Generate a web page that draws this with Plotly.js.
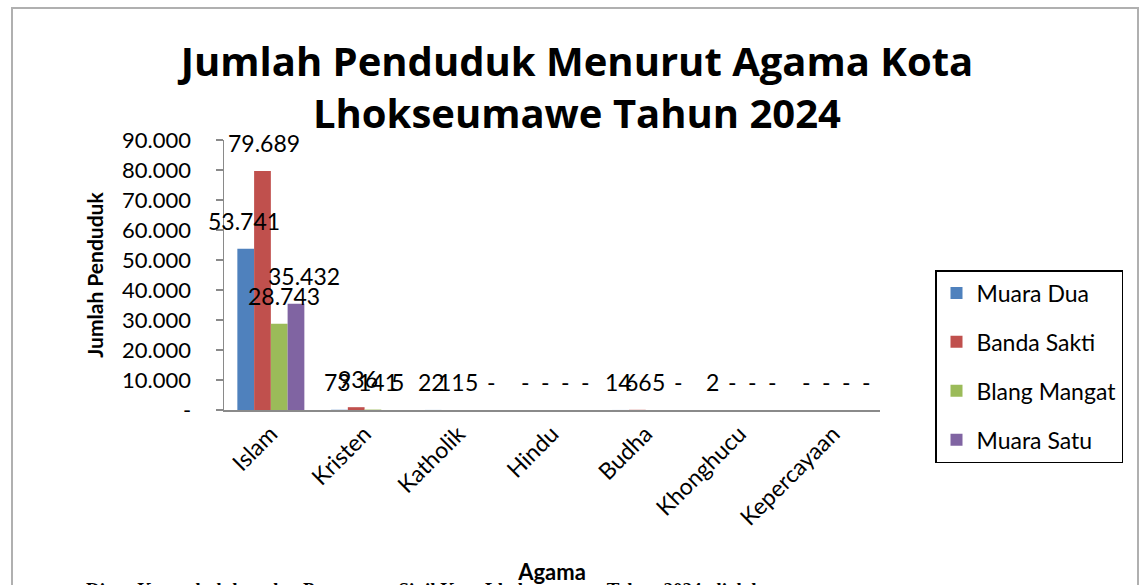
<!DOCTYPE html>
<html>
<head>
<meta charset="utf-8">
<script src="https://cdn.plot.ly/plotly-3.0.1.min.js"></script>
<style>
  html, body { margin: 0; padding: 0; background: #ffffff; }
  #wrap { position: relative; width: 1147px; height: 585px; overflow: hidden; }
  #frame { position: absolute; left: 11px; top: 7px; width: 1128px; height: 600px; border: 2px solid #b0b0b0; box-sizing: border-box; pointer-events: none; }
  #chart { position: absolute; left: 0; top: 0; width: 1147px; height: 585px; }
</style>
</head>
<body>
<div id="wrap">
  <div id="chart"></div>
  <div id="frame"></div>
</div>
<script>
// ---- Data ----
const categories = ['Islam', 'Kristen', 'Katholik', 'Hindu', 'Budha', 'Khonghucu', 'Kepercayaan'];
const seriesNames = ['Muara Dua', 'Banda Sakti', 'Blang Mangat', 'Muara Satu'];
const muaraDua    = [53741, 73, 22, 0, 14, 2, 0];
const bandaSakti  = [79689, 936, 11, 0, 66, 0, 0];
const blangMangat = [28743, 141, 5, 0, 5, 0, 0];
const muaraSatu   = [35432, 5, 0, 0, 0, 0, 0];
const yTickVals   = [0, 10000, 20000, 30000, 40000, 50000, 60000, 70000, 80000, 90000];
const yTickText   = ['-', '10.000', '20.000', '30.000', '40.000', '50.000', '60.000', '70.000', '80.000', '90.000'];

const seriesValues = [muaraDua, bandaSakti, blangMangat, muaraSatu];
const colors = ['#4F81BD', '#C0504D', '#9BBB59', '#8064A2'];

function fmt(v) {
  if (v === 0) return '-';
  return String(v).replace(/\B(?=(\d{3})+(?!\d))/g, '.');
}

const FONT = 'Lato, "Open Sans", sans-serif';
const TFONT = '"Open Sans", Lato, sans-serif';

const traces = seriesValues.map((vals, i) => ({
  type: 'bar',
  name: seriesNames[i],
  x: categories,
  y: vals,
  marker: { color: colors[i] },
  legendgroup: 'g' + i,
  hoverinfo: 'skip'
}));

// layout geometry
const W = 1147, H = 585;
const mL = 224, mR = 267, mT = 140, mB = 175;
const plotW = W - mL - mR;
const bargap = 0.285;
const labelStep = 20;

const annotations = [];
seriesValues.forEach((vals, i) => {
  vals.forEach((v, j) => {
    annotations.push({
      x: categories[j], y: v, xref: 'x', yref: 'y',
      text: fmt(v), showarrow: false,
      xshift: (i - (seriesValues.length - 1) / 2) * labelStep + 3,
      yshift: 28,
      font: { family: FONT, size: 23, color: '#000000' }
    });
  });
});

annotations.push({
  xref: 'paper', yref: 'paper', x: -0.213, y: (410 - 589) / 270, xanchor: 'left', yanchor: 'middle',
  text: '<b>Dinas Kependudukan dan Pencatatan Sipil Kota Lhokseumawe Tahun 2024, diolah</b>',
  showarrow: false,
  font: { family: '"Liberation Serif", "Times New Roman", serif', size: 19, color: '#000000' }
});

const layout = {
  width: W, height: H,
  margin: { l: mL, r: mR, t: mT, b: mB, pad: 0 },
  paper_bgcolor: '#ffffff',
  plot_bgcolor: '#ffffff',
  barmode: 'group',
  bargap: bargap,
  bargroupgap: 0,
  showlegend: true,
  title: {
    text: '<b>Jumlah Penduduk Menurut Agama Kota<br>Lhokseumawe Tahun 2024</b>',
    x: 0.503, xanchor: 'center',
    y: 1 - 76 / H, yanchor: 'middle', yref: 'container',
    font: { family: TFONT, size: 40, color: '#000000' }
  },
  xaxis: {
    type: 'category',
    range: [-0.5, categories.length - 0.5],
    autorange: false,
    showline: true, linecolor: '#8a8a8a', linewidth: 1.5,
    ticks: '', showgrid: false, zeroline: false,
    tickangle: -45,
    tickfont: { family: FONT, size: 23, color: '#000000' },
    title: { text: '<b>Agama</b>', standoff: 36, font: { family: FONT, size: 22, color: '#000000' } },
    automargin: false
  },
  yaxis: {
    range: [0, 90000],
    autorange: false,
    tickmode: 'array', tickvals: yTickVals, ticktext: yTickText,
    showline: true, linecolor: '#8a8a8a', linewidth: 1.5,
    ticks: 'outside', ticklen: 7, tickcolor: '#8a8a8a', tickwidth: 1.5,
    ticklabelstandoff: 20,
    showgrid: false, zeroline: false,
    tickfont: { family: FONT, size: 22, color: '#000000' },
    title: { text: '<b>Jumlah Penduduk</b>', standoff: 12, font: { family: FONT, size: 21, color: '#000000' } },
    automargin: false
  },
  legend: {
    x: (935 - mL) / plotW, xanchor: 'left',
    y: (410 - 270) / 270, yanchor: 'top',
    bordercolor: '#000000', borderwidth: 1.5,
    bgcolor: '#ffffff',
    font: { family: FONT, size: 23, color: '#000000' },
    traceorder: 'grouped',
    tracegroupgap: 16,
    itemwidth: 30
  },
  annotations: annotations
};

Plotly.newPlot('chart', traces, layout, { staticPlot: true, displayModeBar: false });
</script>
</body>
</html>
